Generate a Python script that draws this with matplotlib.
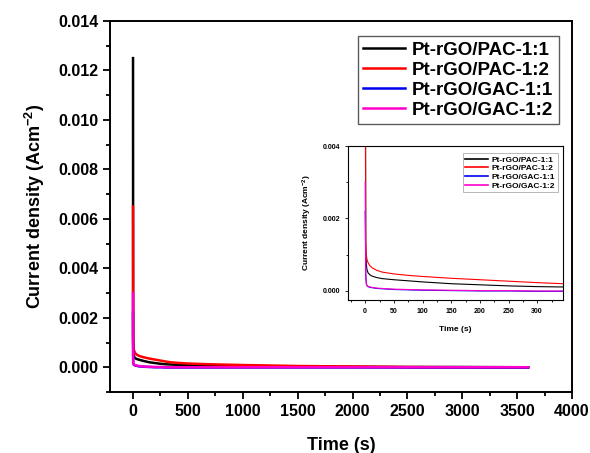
import matplotlib
matplotlib.use("Agg")
import matplotlib.pyplot as plt
from matplotlib.ticker import MultipleLocator

plt.rcParams['font.family'] = ['Liberation Sans', 'DejaVu Sans']
plt.rcParams['mathtext.fontset'] = 'custom'
plt.rcParams['mathtext.rm'] = 'Liberation Sans:bold'
plt.rcParams['mathtext.default'] = 'rm'

# chronoamperometry data (time in s, current in A/cm^2)
time = [0, 1, 2, 3, 5, 8, 12, 20, 30, 50, 75, 100, 150, 200, 250, 300, 345,
        400, 500, 700, 1000, 1500, 2000, 2500, 3000, 3600]
pac_11 = [0.0125, 0.0011, 0.00075, 0.0006, 0.0005, 0.00045, 0.00041, 0.00037,
          0.00034, 0.00031, 0.00028, 0.00025, 0.0002, 0.00017, 0.00014,
          0.00012, 0.00011, 0.0001, 0.00009, 0.00007, 0.00005, 0.00003,
          0.00002, 0.00001, 0.00001, 0.0]
pac_12 = [0.0065, 0.0014, 0.0010, 0.00088, 0.00078, 0.0007, 0.00064, 0.00057,
          0.00052, 0.00047, 0.00043, 0.0004, 0.00035, 0.00031, 0.00027,
          0.00023, 0.0002, 0.00018, 0.00015, 0.00012, 0.00009, 0.00005,
          0.00003, 0.00001, 0.0, 0.0]
gac_11 = [0.0022, 0.0004, 0.0002, 0.00015, 0.00012, 0.0001, 0.00009, 0.00007,
          0.00006, 0.00004, 0.00003, 0.00002, 0.00001, 0.0, 0.0, -0.00001,
          -0.00001, -0.00001, -0.00001, -0.00001, -0.00001, -0.00001,
          -0.00001, -0.00001, -0.00001, -0.00001]
gac_12 = [0.003, 0.0005, 0.0002, 0.00015, 0.00013, 0.00011, 0.0001, 0.00008,
          0.00007, 0.00005, 0.00004, 0.00003, 0.00002, 0.00001, 0.00001, 0.0,
          0.0, 0.0, 0.0, 0.0, 0.0, 0.0, 0.0, 0.0, 0.0, 0.0]

labels = ['Pt-rGO/PAC-1:1', 'Pt-rGO/PAC-1:2', 'Pt-rGO/GAC-1:1', 'Pt-rGO/GAC-1:2']
colors = ['black', 'red', '#0000ee', '#ff00cc']
series = [pac_11, pac_12, gac_11, gac_12]

fig = plt.figure(figsize=(5.9, 4.53), dpi=100)
ax = fig.add_axes([0.1864, 0.1347, 0.7831, 0.8189])

for y, c, lab in zip(series, colors, labels):
    ax.plot(time, y, color=c, lw=1.8, label=lab)

ax.set_xlim(-210, 4000)
ax.set_ylim(-0.001, 0.014)
ax.xaxis.set_major_locator(MultipleLocator(500))
ax.xaxis.set_minor_locator(MultipleLocator(250))
ax.yaxis.set_major_locator(MultipleLocator(0.002))
ax.yaxis.set_minor_locator(MultipleLocator(0.001))
ax.yaxis.set_major_formatter(plt.FormatStrFormatter('%.3f'))
ax.tick_params(which='both', direction='out', top=False, right=False, width=1.3)
ax.tick_params(which='major', length=5, labelsize=11.5)
ax.tick_params(which='minor', length=3)
for lbl in ax.get_xticklabels() + ax.get_yticklabels():
    lbl.set_fontweight('bold')
for s in ax.spines.values():
    s.set_linewidth(1.4)
ax.set_xlabel('Time (s)', fontsize=13, fontweight='bold', labelpad=13)
ax.set_ylabel('Current density (Acm$^{-2}$)', fontsize=13, fontweight='bold', labelpad=8)

leg = ax.legend(loc='upper right', bbox_to_anchor=(0.992, 0.985),
                prop={'weight': 'bold', 'size': 13.5}, fancybox=False,
                handlelength=2.2, labelspacing=0.15, borderpad=0.3,
                handletextpad=0.4)
leg.get_frame().set_edgecolor('#333333')
leg.get_frame().set_linewidth(1.0)

# inset, first ~350 s
ins = fig.add_axes([0.5898, 0.3377, 0.3644, 0.34])
for y, c, lab in zip(series, colors, labels):
    ins.plot(time, y, color=c, lw=0.8, label=lab)
ins.set_xlim(-30, 345)
ins.set_ylim(-0.00025, 0.004)
ins.xaxis.set_major_locator(MultipleLocator(50))
ins.xaxis.set_minor_locator(MultipleLocator(25))
ins.yaxis.set_major_locator(MultipleLocator(0.002))
ins.yaxis.set_minor_locator(MultipleLocator(0.001))
ins.yaxis.set_major_formatter(plt.FormatStrFormatter('%.3f'))
ins.tick_params(which='both', direction='out', top=False, right=False, width=0.6)
ins.tick_params(which='major', length=2.5, labelsize=5, pad=3)
ins.tick_params(which='minor', length=1.5)
for lbl in ins.get_xticklabels() + ins.get_yticklabels():
    lbl.set_fontweight('bold')
for s in ins.spines.values():
    s.set_linewidth(0.8)
ins.set_xlabel('Time (s)', fontsize=6, fontweight='bold', labelpad=8)
ins.set_ylabel('Current density (Acm$^{-2}$)', fontsize=6, fontweight='bold', labelpad=6)
ileg = ins.legend(loc='upper right', bbox_to_anchor=(0.995, 0.98),
                  prop={'weight': 'bold', 'size': 6}, fancybox=False,
                  handlelength=2.8, labelspacing=0.1, borderpad=0.3,
                  handletextpad=0.4)
ileg.get_frame().set_edgecolor('#999999')
ileg.get_frame().set_linewidth(0.6)
for h in ileg.get_lines():
    h.set_linewidth(1.2)

fig.savefig('out.png', dpi=100)
